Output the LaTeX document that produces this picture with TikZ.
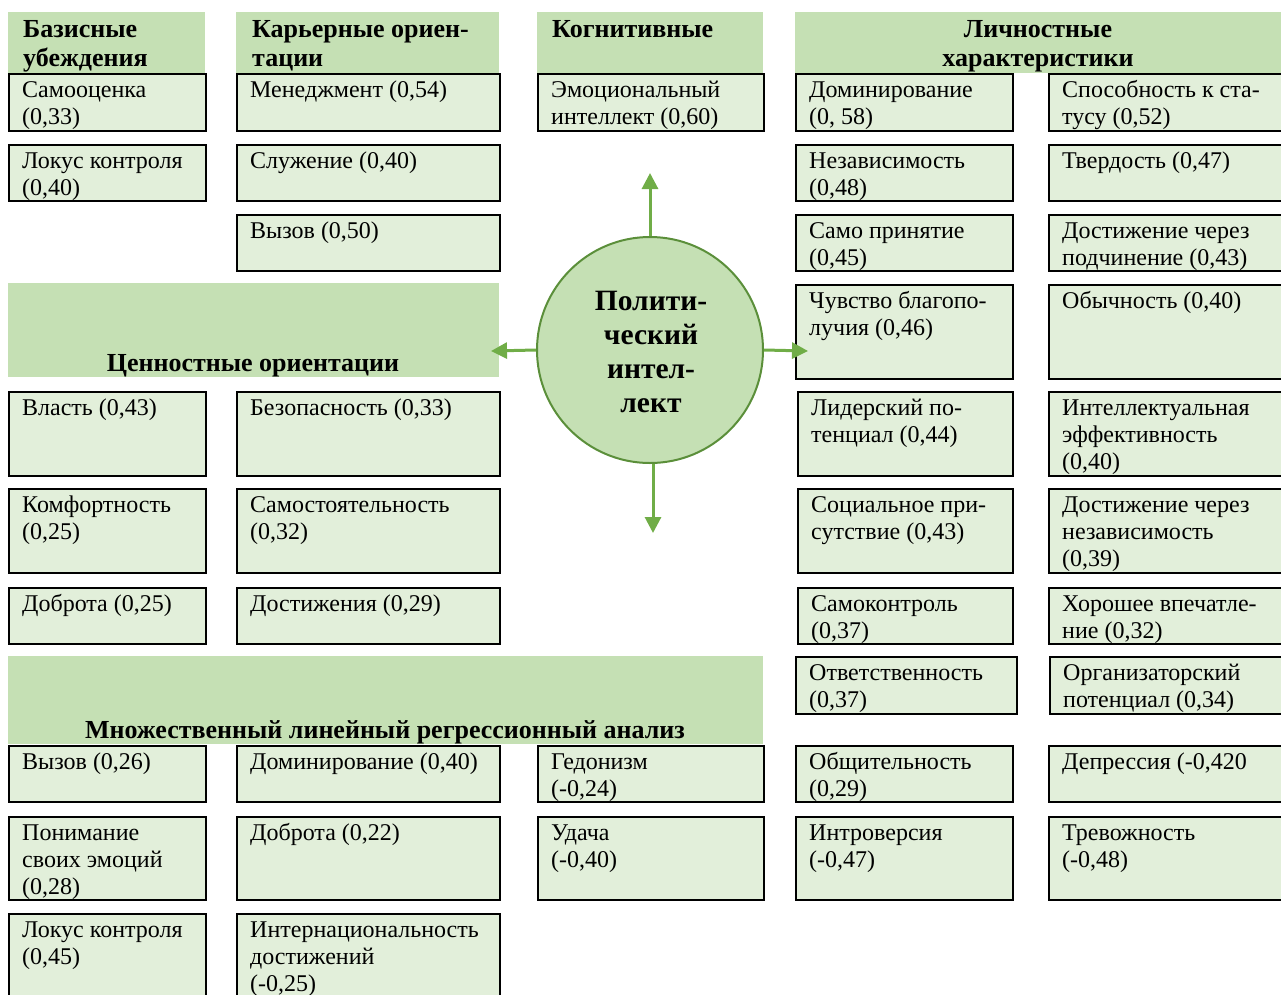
\documentclass[tikz,border=0pt]{standalone}
\usepackage{fontspec}
\setmainfont{Liberation Serif}
\usetikzlibrary{arrows.meta}
\definecolor{hdr}{HTML}{C5E0B4}
\definecolor{cellf}{HTML}{E2EFDA}
\definecolor{arr}{HTML}{70AD47}
\definecolor{circ}{HTML}{5B8F3A}
\tikzset{
  cellbox/.style={draw=black, line width=2pt, fill=cellf, inner sep=0pt, anchor=north west},
  hdrbox/.style={fill=hdr, draw=none, inner sep=0pt, anchor=north west},
  celltext/.style={inner sep=0pt, anchor=base west, font=\fontsize{24}{27}\selectfont},
  hdrtext/.style={inner sep=0pt, font=\bfseries\fontsize{26}{29}\selectfont},
  link/.style={draw=arr, line width=3pt, -{Triangle[width=16pt,length=16pt]}},
}
\newcommand\mkbox[6]{%
  \node[cellbox, minimum width={(#4-#2)*1pt}, minimum height={(#5-#3)*1pt}] (#1) at (#2,#3) {};
  \node[celltext] (#1t) at ([xshift=14pt,yshift=-24pt]#1.north west) {\parbox[t]{300pt}{\raggedright #6}};%
}
\newcommand\mkhdr[5]{%
  \node[hdrbox, minimum width={(#4-#2)*1pt}, minimum height={(#5-#3)*1pt}] (#1) at (#2,#3) {};%
}
\begin{document}
\begin{tikzpicture}[x=1pt,y=-1pt]
\useasboundingbox (0,0) rectangle (1281,994);
\clip (0,0) rectangle (1281,994);
% headers
\mkhdr{h1}{8}{12}{205}{73}
\mkhdr{h2}{236}{12}{499}{73}
\mkhdr{h3}{537}{12}{763}{73}
\mkhdr{h4}{795}{12}{1290}{73}
\mkhdr{h5}{8}{283}{499}{377}
\mkhdr{h6}{8}{656}{763}{744}
% basic beliefs
\mkbox{b1}{8}{73}{205}{130}{Самооценка\\(0,33)}
\mkbox{b2}{8}{144}{205}{200}{Локус контроля\\(0,40)}
% career
\mkbox{c1}{236}{73}{499}{130}{Менеджмент (0,54)}
\mkbox{c2}{236}{144}{499}{200}{Служение (0,40)}
\mkbox{c3}{236}{214}{499}{270}{Вызов (0,50)}
% cognitive
\mkbox{k1}{537}{73}{763}{130}{Эмоциональный\\интеллект (0,60)}
% personal, left
\mkbox{l1}{795}{73}{1012}{130}{Доминирование\\(0, 58)}
\mkbox{l2}{795}{144}{1012}{200}{Независимость\\(0,48)}
\mkbox{l3}{795}{214}{1012}{270}{Само принятие\\(0,45)}
\mkbox{l4}{795}{284}{1012}{378}{Чувство благопо-\\лучия (0,46)}
\mkbox{l5}{797}{391}{1012}{475}{Лидерский по-\\тенциал (0,44)}
\mkbox{l6}{797}{488}{1012}{572}{Социальное при-\\сутствие (0,43)}
\mkbox{l7}{797}{587}{1012}{643}{Самоконтроль\\(0,37)}
\mkbox{l8}{795}{656}{1016}{713}{Ответственность\\(0,37)}
\mkbox{l9}{795}{745}{1012}{801}{Общительность\\(0,29)}
\mkbox{l10}{795}{816}{1012}{899}{Интроверсия\\(-0,47)}
% personal, right
\mkbox{r1}{1048}{73}{1290}{130}{Способность к ста-\\тусу (0,52)}
\mkbox{r2}{1048}{144}{1290}{200}{Твердость (0,47)}
\mkbox{r3}{1048}{214}{1290}{270}{Достижение через\\подчинение (0,43)}
\mkbox{r4}{1048}{284}{1290}{378}{Обычность (0,40)}
\mkbox{r5}{1048}{391}{1290}{475}{Интеллектуальная\\эффективность\\(0,40)}
\mkbox{r6}{1048}{488}{1290}{572}{Достижение через\\независимость\\(0,39)}
\mkbox{r7}{1048}{587}{1290}{643}{Хорошее впечатле-\\ние (0,32)}
\mkbox{r8}{1049}{656}{1290}{713}{Организаторский\\потенциал (0,34)}
\mkbox{r9}{1048}{745}{1290}{801}{Депрессия (-0,420}
\mkbox{r10}{1048}{816}{1290}{899}{Тревожность\\(-0,48)}
% values
\mkbox{v1}{8}{391}{205}{475}{Власть (0,43)}
\mkbox{v2}{236}{391}{499}{475}{Безопасность (0,33)}
\mkbox{v3}{8}{488}{205}{572}{Комфортность\\(0,25)}
\mkbox{v4}{236}{488}{499}{572}{Самостоятельность\\(0,32)}
\mkbox{v5}{8}{587}{205}{643}{Доброта (0,25)}
\mkbox{v6}{236}{587}{499}{643}{Достижения (0,29)}
% regression
\mkbox{m1}{8}{745}{205}{801}{Вызов (0,26)}
\mkbox{m2}{236}{745}{499}{801}{Доминирование (0,40)}
\mkbox{m3}{537}{745}{763}{801}{Гедонизм\\(-0,24)}
\mkbox{m4}{8}{816}{205}{899}{Понимание\\своих эмоций\\(0,28)}
\mkbox{m5}{236}{816}{499}{899}{Доброта (0,22)}
\mkbox{m6}{537}{816}{763}{899}{Удача\\(-0,40)}
\mkbox{m7}{8}{913}{205}{1002}{Локус контроля\\(0,45)}
\mkbox{m8}{236}{913}{499}{1002}{Интернациональность\\достижений\\(-0,25)}
% header texts
\node[hdrtext, anchor=base west] (h1t) at (23,37) {\parbox[t]{300pt}{\raggedright Базисные\\убеждения}};
\node[hdrtext, anchor=base west] (h2t) at (252,37) {\parbox[t]{300pt}{\raggedright Карьерные ориен-\\тации}};
\node[hdrtext, anchor=base west] (h3t) at (552,37) {Когнитивные};
\node[hdrtext, anchor=base] (h4t) at (1038,37) {\parbox[t]{300pt}{\centering Личностные\\характеристики}};
\node[hdrtext, anchor=base] (h5t) at (253,371) {Ценностные ориентации};
\node[hdrtext, anchor=base] (h6t) at (385,738) {Множественный линейный регрессионный анализ};
% centre
\node[circle, draw=circ, line width=2pt, fill=hdr, minimum size=226pt, inner sep=0pt] (pi) at (650,350) {};
\node[inner sep=0pt, anchor=base, font=\bfseries\fontsize{29.5}{34}\selectfont] (pit) at (651,310)
  {\parbox[t]{200pt}{\centering Полити-\\ческий\\интел-\\лект}};
\coordinate (up) at (650,173);
\coordinate (lf) at (491,351);
\coordinate (rt) at (808,351);
\coordinate (dn) at (653,533);
\draw[link] (pi.north) -- (up);
\draw[link] (pi.west) -- (lf);
\draw[link] (pi.east) -- (rt);
\draw[link] ([xshift=3pt]pi.south) -- (dn);
\end{tikzpicture}
\end{document}
